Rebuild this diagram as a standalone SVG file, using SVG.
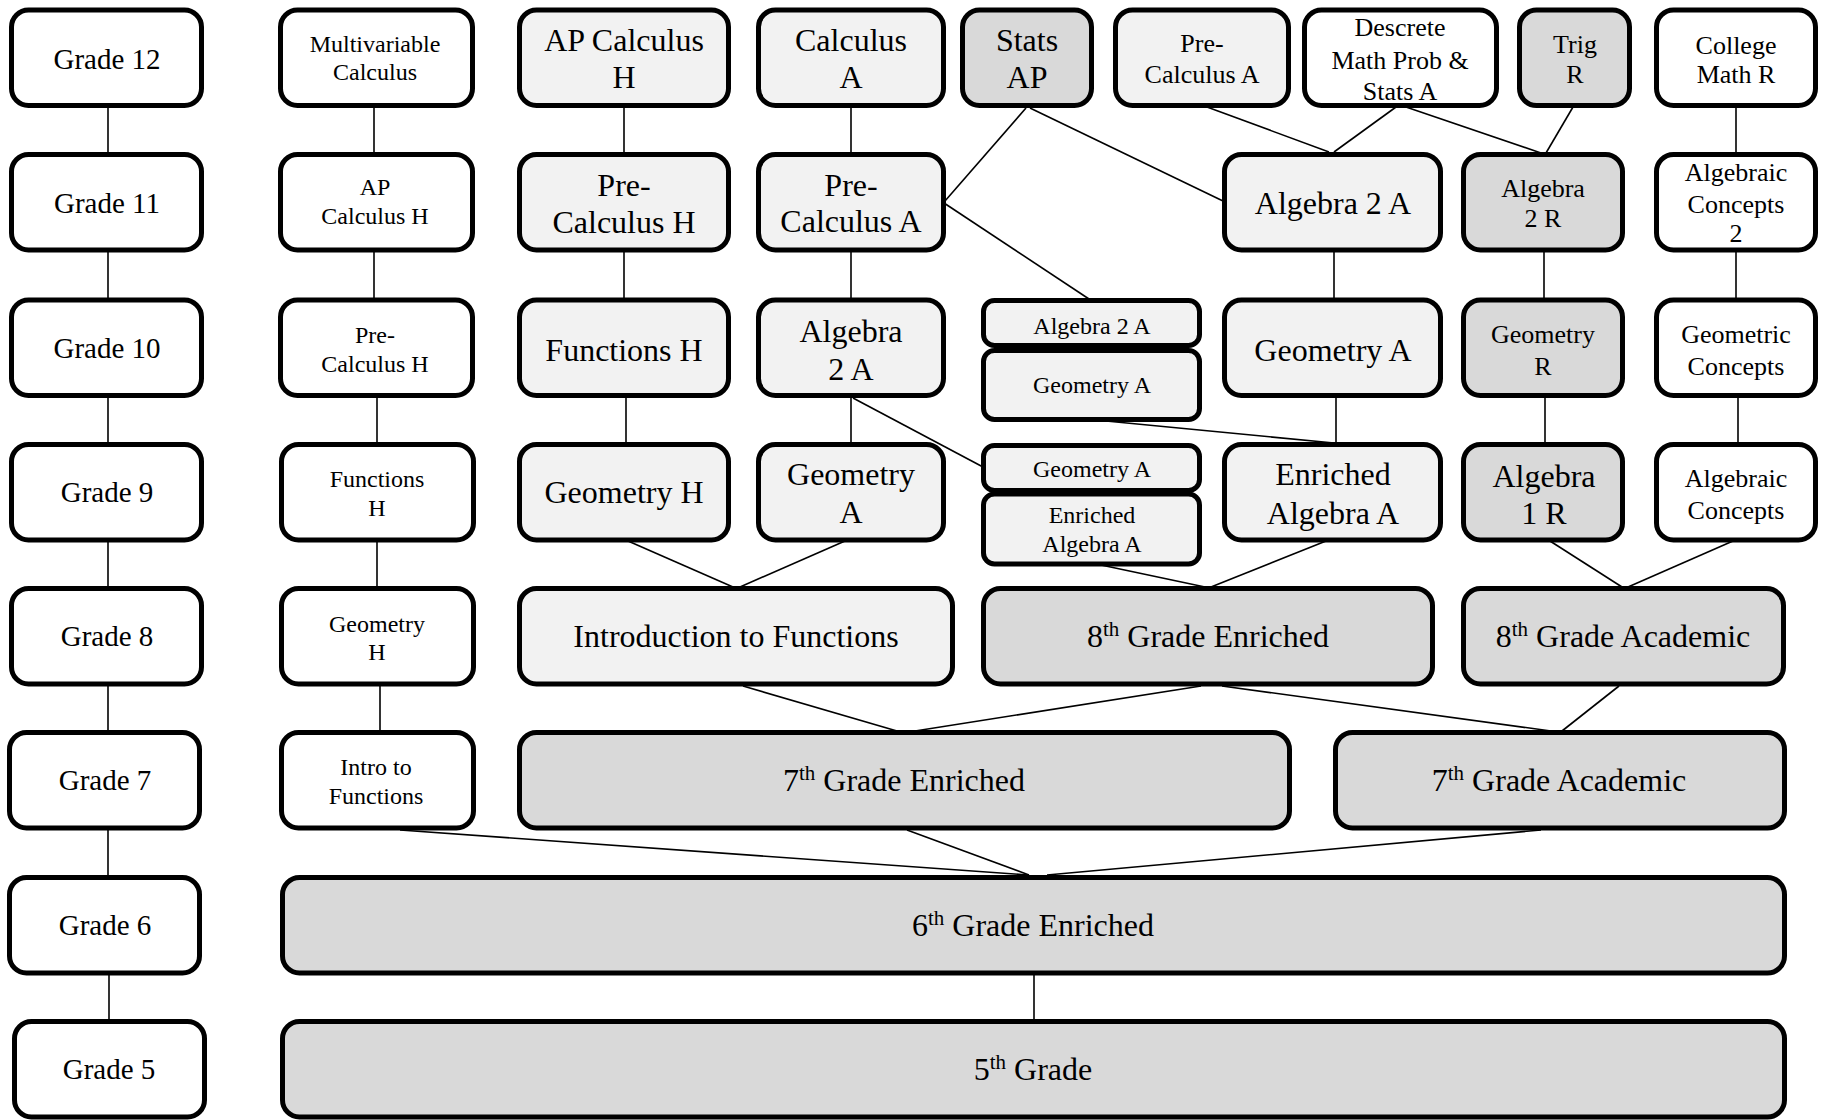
<svg xmlns="http://www.w3.org/2000/svg" width="1822" height="1120" viewBox="0 0 1822 1120">
<style>
.b{stroke:#000;stroke-width:5;}
.w{fill:#fff}.l{fill:#f2f2f2}.d{fill:#d9d9d9}
text{font-family:"Liberation Serif","Times New Roman",serif;fill:#000;text-anchor:middle}
.s24{font-size:24px}.s26{font-size:26px}.s29{font-size:29px}.s32{font-size:32px}
.c line{stroke:#000;stroke-width:1.6}
</style>
<rect width="1822" height="1120" fill="#fff"/>
<g class="c" id="connectors">
<line x1="108" y1="106" x2="108" y2="154"/>
<line x1="108" y1="250" x2="108" y2="300"/>
<line x1="108" y1="397" x2="108" y2="444"/>
<line x1="108" y1="541" x2="108" y2="588"/>
<line x1="108" y1="685" x2="108" y2="732"/>
<line x1="108" y1="829" x2="108" y2="877"/>
<line x1="109" y1="973" x2="109" y2="1021"/>
<line x1="374" y1="106" x2="374" y2="154"/>
<line x1="374" y1="250" x2="374" y2="300"/>
<line x1="377" y1="397" x2="377" y2="444"/>
<line x1="377" y1="541" x2="377" y2="588"/>
<line x1="380" y1="685" x2="380" y2="732"/>
<line x1="624" y1="106" x2="624" y2="154"/>
<line x1="624" y1="250" x2="624" y2="300"/>
<line x1="626" y1="397" x2="626" y2="444"/>
<line x1="851" y1="106" x2="851" y2="154"/>
<line x1="851" y1="250" x2="851" y2="300"/>
<line x1="851" y1="397" x2="851" y2="444"/>
<line x1="1026" y1="108" x2="945" y2="201"/>
<line x1="1030" y1="108" x2="1223" y2="201"/>
<line x1="944" y1="203" x2="1089" y2="299"/>
<line x1="1207" y1="107" x2="1329" y2="152"/>
<line x1="1396" y1="107" x2="1334" y2="152"/>
<line x1="1406" y1="107" x2="1541" y2="153"/>
<line x1="1573" y1="107" x2="1546" y2="153"/>
<line x1="1736" y1="106" x2="1736" y2="154"/>
<line x1="1334" y1="250" x2="1334" y2="300"/>
<line x1="1544" y1="250" x2="1544" y2="300"/>
<line x1="1736" y1="250" x2="1736" y2="300"/>
<line x1="853" y1="398" x2="983" y2="467"/>
<line x1="1106" y1="421" x2="1334" y2="443"/>
<line x1="1336" y1="397" x2="1336" y2="444"/>
<line x1="1545" y1="397" x2="1545" y2="444"/>
<line x1="1738" y1="397" x2="1738" y2="444"/>
<line x1="628" y1="541" x2="733" y2="587"/>
<line x1="845" y1="541" x2="740" y2="587"/>
<line x1="1101" y1="565" x2="1205" y2="587"/>
<line x1="1326" y1="541" x2="1211" y2="587"/>
<line x1="1550" y1="541" x2="1622" y2="587"/>
<line x1="1733" y1="541" x2="1628" y2="587"/>
<line x1="743" y1="686" x2="897" y2="731"/>
<line x1="1201" y1="686" x2="915" y2="731"/>
<line x1="1222" y1="686" x2="1551" y2="731"/>
<line x1="1619" y1="686" x2="1562" y2="731"/>
<line x1="400" y1="830" x2="1028" y2="875"/>
<line x1="907" y1="830" x2="1029" y2="875"/>
<line x1="1541" y1="830" x2="1047" y2="875"/>
<line x1="1034" y1="973" x2="1034" y2="1021"/>
</g>
<g id="grade12"><rect class="b w" x="11.5" y="10" width="190" height="95.5" rx="17"/><text class="s29" x="107" y="69">Grade 12</text></g>
<g id="grade11"><rect class="b w" x="11.5" y="154.5" width="190" height="95.5" rx="17"/><text class="s29" x="107" y="213">Grade 11</text></g>
<g id="grade10"><rect class="b w" x="11.5" y="300" width="190" height="95.5" rx="17"/><text class="s29" x="107" y="358">Grade 10</text></g>
<g id="grade9"><rect class="b w" x="11.5" y="444.5" width="190" height="95.5" rx="17"/><text class="s29" x="107" y="502">Grade 9</text></g>
<g id="grade8"><rect class="b w" x="11.5" y="588.5" width="190" height="95.5" rx="17"/><text class="s29" x="107" y="646">Grade 8</text></g>
<g id="grade7"><rect class="b w" x="9.5" y="732.5" width="190" height="95.5" rx="17"/><text class="s29" x="105" y="790">Grade 7</text></g>
<g id="grade6"><rect class="b w" x="9.5" y="877.5" width="190" height="95.5" rx="17"/><text class="s29" x="105" y="935">Grade 6</text></g>
<g id="grade5"><rect class="b w" x="14.5" y="1021.5" width="190" height="95.5" rx="17"/><text class="s29" x="109" y="1079">Grade 5</text></g>

<g id="multivariable"><rect class="b w" x="280.5" y="10" width="192" height="95.5" rx="17"/><text class="s24" x="375" y="52">Multivariable</text><text class="s24" x="375" y="80">Calculus</text></g>
<g id="apcalch2"><rect class="b w" x="280.5" y="154.5" width="192" height="95.5" rx="17"/><text class="s24" x="375" y="195">AP</text><text class="s24" x="375" y="224">Calculus H</text></g>
<g id="precalch2"><rect class="b w" x="280.5" y="300" width="192" height="95.5" rx="17"/><text class="s24" x="375" y="343">Pre-</text><text class="s24" x="375" y="372">Calculus H</text></g>
<g id="functionsh2"><rect class="b w" x="281.5" y="444.5" width="192" height="95.5" rx="17"/><text class="s24" x="377" y="487">Functions</text><text class="s24" x="377" y="516">H</text></g>
<g id="geometryh2"><rect class="b w" x="281.5" y="588.5" width="192" height="95.5" rx="17"/><text class="s24" x="377" y="632">Geometry</text><text class="s24" x="377" y="660">H</text></g>
<g id="introfunc2"><rect class="b w" x="281.5" y="732.5" width="192" height="95.5" rx="17"/><text class="s24" x="376" y="775">Intro to</text><text class="s24" x="376" y="804">Functions</text></g>

<g id="apcalch"><rect class="b l" x="519.5" y="10" width="209" height="95.5" rx="17"/><text class="s32" x="624" y="51">AP Calculus</text><text class="s32" x="624" y="88">H</text></g>
<g id="precalch"><rect class="b l" x="519.5" y="154.5" width="209" height="95.5" rx="17"/><text class="s32" x="624" y="196">Pre-</text><text class="s32" x="624" y="233">Calculus H</text></g>
<g id="functionsh"><rect class="b l" x="519.5" y="300" width="209" height="95.5" rx="17"/><text class="s32" x="624" y="361">Functions H</text></g>
<g id="geometryh"><rect class="b l" x="519.5" y="444.5" width="209" height="95.5" rx="17"/><text class="s32" x="624" y="503">Geometry H</text></g>

<g id="calculusa"><rect class="b l" x="758.5" y="10" width="185" height="95.5" rx="17"/><text class="s32" x="851" y="51">Calculus</text><text class="s32" x="851" y="88">A</text></g>
<g id="precalca"><rect class="b l" x="758.5" y="154.5" width="185" height="95.5" rx="17"/><text class="s32" x="851" y="196">Pre-</text><text class="s32" x="851" y="232">Calculus A</text></g>
<g id="algebra2a-c4"><rect class="b l" x="758.5" y="300" width="185" height="95.5" rx="17"/><text class="s32" x="851" y="342">Algebra</text><text class="s32" x="851" y="380">2 A</text></g>
<g id="geometrya-c4"><rect class="b l" x="758.5" y="444.5" width="185" height="95.5" rx="17"/><text class="s32" x="851" y="485">Geometry</text><text class="s32" x="851" y="523">A</text></g>

<g id="statsap"><rect class="b d" x="962.5" y="10" width="129" height="95.5" rx="17"/><text class="s32" x="1027" y="51">Stats</text><text class="s32" x="1027" y="88">AP</text></g>
<g id="precalca-top"><rect class="b l" x="1115.5" y="10" width="173" height="95.5" rx="17"/><text class="s26" x="1202" y="52">Pre-</text><text class="s26" x="1202" y="83">Calculus A</text></g>
<g id="descrete"><rect class="b w" x="1304.5" y="10" width="192" height="95.5" rx="17"/><text class="s26" x="1400" y="36">Descrete</text><text class="s26" x="1400" y="69">Math Prob &amp;</text><text class="s26" x="1400" y="100">Stats A</text></g>
<g id="trigr"><rect class="b d" x="1519.5" y="10" width="110" height="95.5" rx="17"/><text class="s26" x="1575" y="53">Trig</text><text class="s26" x="1575" y="83">R</text></g>
<g id="collegemath"><rect class="b w" x="1656.5" y="10" width="159" height="95.5" rx="17"/><text class="s26" x="1736" y="54">College</text><text class="s26" x="1736" y="83">Math R</text></g>

<g id="algebra2a"><rect class="b l" x="1224.5" y="154.5" width="216" height="95.5" rx="17"/><text class="s32" x="1333" y="214">Algebra 2 A</text></g>
<g id="algebra2r"><rect class="b d" x="1463.5" y="154.5" width="159" height="95.5" rx="17"/><text class="s26" x="1543" y="197">Algebra</text><text class="s26" x="1543" y="227">2 R</text></g>
<g id="algconcepts2"><rect class="b w" x="1656.5" y="154.5" width="159" height="95.5" rx="17"/><text class="s26" x="1736" y="181">Algebraic</text><text class="s26" x="1736" y="213">Concepts</text><text class="s26" x="1736" y="242">2</text></g>

<g id="small-algebra2a"><rect class="b l" x="983.5" y="300.5" width="216" height="45" rx="11"/><text class="s24" x="1092" y="334">Algebra 2 A</text></g>
<g id="small-geometrya-10"><rect class="b l" x="983.5" y="350.5" width="216" height="69" rx="11"/><text class="s24" x="1092" y="393">Geometry A</text></g>
<g id="geometrya"><rect class="b l" x="1224.5" y="300" width="216" height="95.5" rx="17"/><text class="s32" x="1333" y="361">Geometry A</text></g>
<g id="geometryr"><rect class="b d" x="1463.5" y="300" width="159" height="95.5" rx="17"/><text class="s26" x="1543" y="343">Geometry</text><text class="s26" x="1543" y="375">R</text></g>
<g id="geoconcepts"><rect class="b w" x="1656.5" y="300" width="159" height="95.5" rx="17"/><text class="s26" x="1736" y="343">Geometric</text><text class="s26" x="1736" y="375">Concepts</text></g>

<g id="small-geometrya-9"><rect class="b l" x="983.5" y="445.5" width="216" height="45" rx="11"/><text class="s24" x="1092" y="477">Geometry A</text></g>
<g id="small-enrichedalg"><rect class="b l" x="983.5" y="494" width="216" height="70" rx="11"/><text class="s24" x="1092" y="523">Enriched</text><text class="s24" x="1092" y="552">Algebra A</text></g>
<g id="enrichedalg"><rect class="b l" x="1224.5" y="444.5" width="216" height="95.5" rx="17"/><text class="s32" x="1333" y="485">Enriched</text><text class="s32" x="1333" y="524">Algebra A</text></g>
<g id="algebra1r"><rect class="b d" x="1463.5" y="444.5" width="159" height="95.5" rx="17"/><text class="s32" x="1544" y="487">Algebra</text><text class="s32" x="1544" y="524">1 R</text></g>
<g id="algconcepts"><rect class="b w" x="1656.5" y="444.5" width="159" height="95.5" rx="17"/><text class="s26" x="1736" y="487">Algebraic</text><text class="s26" x="1736" y="519">Concepts</text></g>

<g id="introfunc"><rect class="b l" x="519.5" y="588.5" width="433" height="95.5" rx="17"/><text class="s32" x="736" y="647">Introduction to Functions</text></g>
<g id="g8enriched"><rect class="b d" x="983.5" y="588.5" width="449" height="95.5" rx="17"/><text class="s32" x="1208" y="647">8<tspan font-size="21" dy="-11">th</tspan><tspan dy="11"> Grade Enriched</tspan></text></g>
<g id="g8academic"><rect class="b d" x="1463.5" y="588.5" width="320" height="95.5" rx="17"/><text class="s32" x="1623" y="647">8<tspan font-size="21" dy="-11">th</tspan><tspan dy="11"> Grade Academic</tspan></text></g>

<g id="g7enriched"><rect class="b d" x="519.5" y="732.5" width="770" height="95.5" rx="17"/><text class="s32" x="904" y="791">7<tspan font-size="21" dy="-11">th</tspan><tspan dy="11"> Grade Enriched</tspan></text></g>
<g id="g7academic"><rect class="b d" x="1335.5" y="732.5" width="449" height="95.5" rx="17"/><text class="s32" x="1559" y="791">7<tspan font-size="21" dy="-11">th</tspan><tspan dy="11"> Grade Academic</tspan></text></g>

<g id="g6enriched"><rect class="b d" x="282.5" y="877.5" width="1502" height="95.5" rx="17"/><text class="s32" x="1033" y="936">6<tspan font-size="21" dy="-11">th</tspan><tspan dy="11"> Grade Enriched</tspan></text></g>
<g id="g5"><rect class="b d" x="282.5" y="1021.5" width="1502" height="95.5" rx="17"/><text class="s32" x="1033" y="1080">5<tspan font-size="21" dy="-11">th</tspan><tspan dy="11"> Grade</tspan></text></g>
</svg>
